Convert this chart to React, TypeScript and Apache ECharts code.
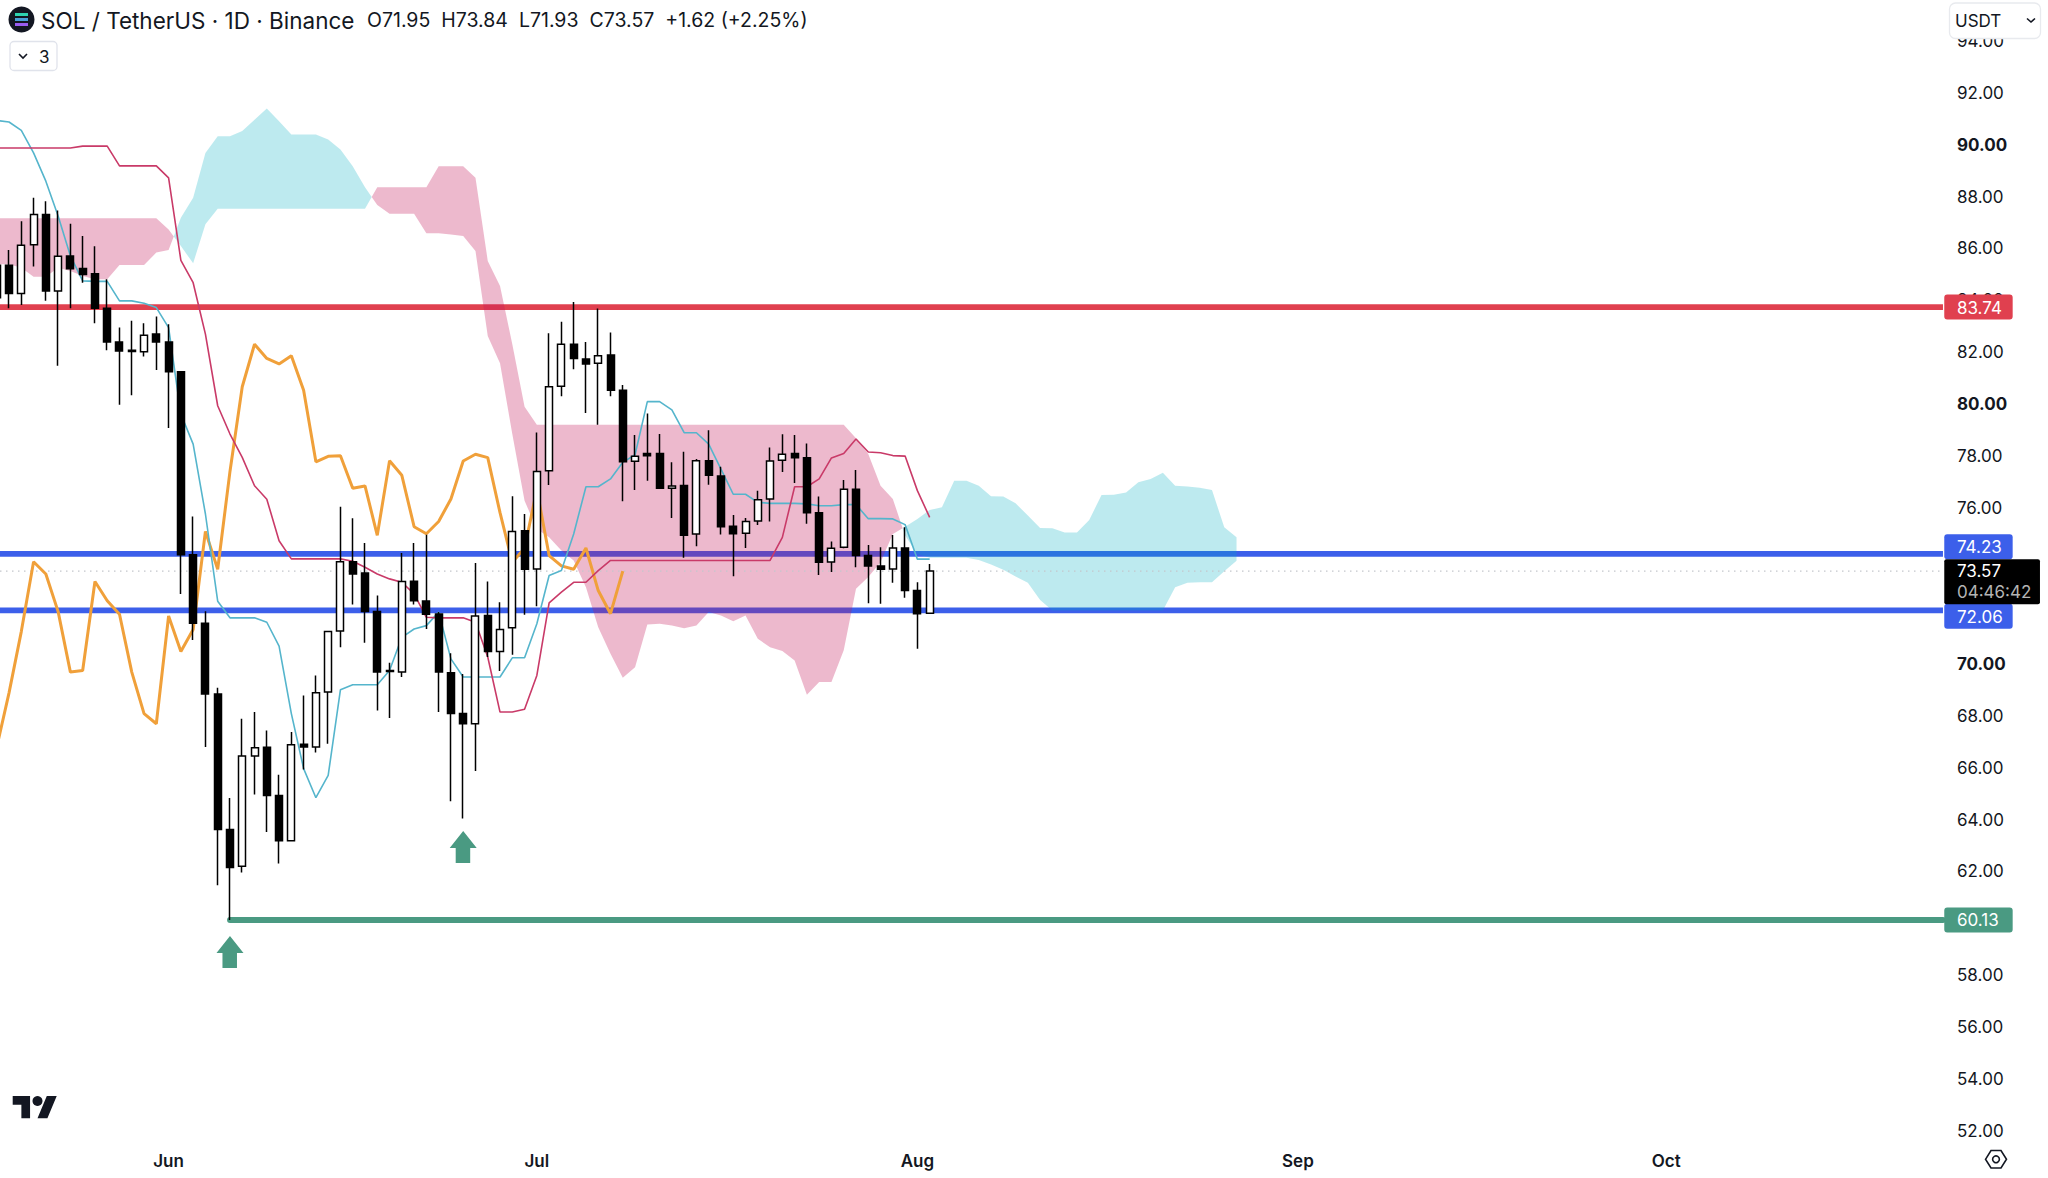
import React, { useEffect, useRef } from "react";
import * as echarts from "echarts";

// ---- data -----------------------------------------------------------------
// Day numbers count from 1 June (day 0).
const FIRST_DAY = -14;
const monthTicks = [0, 30, 61, 92, 122];
const monthLabels = ["Jun", "Jul", "Aug", "Sep", "Oct"];
// Price ticks that sit fully behind a price tag in the reference.
const coveredTicks = [60, 72, 74];

// open, close, low, high
const candles = [
  [85.35, 84.1, 83.8, 85.9], [85.35, 84.26, 83.7, 85.94], [84.26, 86.12, 83.82, 87.05], [86.14, 87.31, 85.3, 87.95],
  [87.31, 84.36, 83.98, 87.82], [84.36, 85.7, 81.48, 87.46], [85.71, 85.22, 83.7, 86.95], [85.23, 85.0, 84.68, 86.48],
  [85.02, 83.7, 83.12, 86.08], [83.7, 82.4, 82.08, 84.81], [82.4, 82.05, 79.98, 82.95], [82.08, 82.03, 80.34, 83.21],
  [82.02, 82.66, 81.84, 83.12], [82.7, 82.4, 81.32, 83.38], [82.4, 81.25, 79.08, 83.08], [81.25, 74.2, 72.69, 81.25],
  [74.2, 71.56, 70.92, 75.67], [71.56, 68.84, 66.79, 72.02], [68.84, 63.62, 61.47, 69.08], [63.62, 62.15, 60.13, 64.83],
  [62.2, 66.45, 61.96, 67.88], [66.45, 66.77, 64.96, 68.14], [66.78, 64.93, 63.52, 67.43], [64.93, 63.18, 62.31, 65.73],
  [63.18, 66.88, 63.18, 67.37], [66.9, 66.79, 65.93, 68.78], [66.79, 68.88, 66.58, 69.55], [68.91, 71.24, 66.92, 71.24],
  [71.26, 73.93, 70.64, 76.05], [73.93, 73.46, 72.28, 75.61], [73.5, 72.01, 70.81, 74.65], [72.01, 69.68, 68.2, 72.63],
  [69.7, 69.74, 67.91, 70.04], [69.68, 73.17, 69.49, 74.27], [73.18, 72.43, 72.28, 74.65], [72.42, 71.91, 71.34, 74.97],
  [71.92, 69.68, 68.14, 71.99], [69.65, 68.08, 64.7, 70.41], [68.08, 67.69, 64.04, 69.61], [67.69, 71.84, 65.87, 73.88],
  [71.86, 70.47, 70.26, 73.17], [70.47, 71.32, 69.72, 72.37], [71.39, 75.1, 70.35, 76.45], [75.12, 73.64, 71.89, 75.77],
  [73.65, 77.41, 72.22, 78.91], [77.44, 80.67, 76.89, 82.73], [80.69, 82.31, 80.31, 83.18], [82.31, 81.76, 81.35, 83.94],
  [81.74, 81.55, 79.66, 82.4], [81.58, 81.87, 79.21, 83.69], [81.89, 80.54, 80.31, 82.76], [80.54, 77.78, 76.26, 80.74],
  [77.8, 77.99, 76.69, 78.81], [78.1, 78.01, 77.05, 79.64], [78.1, 76.76, 76.76, 78.85], [76.76, 76.85, 75.62, 77.76],
  [76.87, 74.95, 74.08, 78.17], [75.0, 77.82, 74.53, 77.89], [77.82, 77.26, 76.9, 79.0], [77.23, 75.28, 74.98, 77.59],
  [75.3, 75.01, 73.37, 75.73], [75.03, 75.48, 74.46, 75.62], [75.5, 76.32, 75.35, 76.67], [76.35, 77.81, 75.48, 78.33],
  [77.84, 78.07, 77.39, 78.84], [78.1, 77.94, 76.96, 78.81], [77.94, 75.82, 75.39, 78.49], [75.82, 73.91, 73.42, 76.44],
  [73.92, 74.45, 73.54, 74.71], [74.49, 76.72, 74.45, 77.08], [76.72, 74.17, 73.72, 77.46], [74.17, 73.77, 72.33, 74.58],
  [73.77, 73.64, 72.31, 74.49], [73.65, 74.46, 73.12, 74.96], [74.46, 72.82, 72.54, 75.26], [72.82, 71.93, 70.58, 73.14],
  [71.95, 73.57, 71.93, 73.84],
];

const conversionLine = [
  90.93, 90.87, 90.55, 89.68, 88.59, 87.25, 85.71, 84.75, 84.73, 84.73, 83.98, 83.98, 83.89, 83.72, 82.95, 79.62,
  78.46, 75.77, 72.41, 71.77, 71.77, 71.77, 71.6, 70.68, 68.08, 65.96, 64.84, 65.7, 69.0, 69.19, 69.19, 69.19,
  69.74, 71.02, 71.34, 71.47, 71.99, 70.19, 69.49, 69.49, 69.49, 69.49, 70.23, 70.23, 71.54, 73.4, 73.59, 75.0,
  76.82, 76.82, 77.12, 77.76, 78.05, 80.1, 80.1, 79.78, 78.9, 78.9, 78.46, 77.5, 76.53, 76.53, 76.22, 76.18,
  76.18, 76.18, 76.16, 76.09, 76.09, 76.13, 76.13, 75.59, 75.59, 75.58, 75.36, 74.03, 74.03,
];

const baseLine = [
  89.87, 89.87, 89.87, 89.87, 89.87, 89.87, 89.87, 89.94, 89.94, 89.94, 89.18, 89.18, 89.18, 89.18, 88.72, 85.54,
  84.68, 82.7, 79.94, 78.85, 77.95, 76.86, 76.34, 74.74, 74.04, 74.04, 74.04, 74.04, 74.04, 73.95, 73.72, 73.46,
  73.27, 73.14, 72.69, 71.79, 71.77, 71.77, 71.77, 71.6, 70.26, 68.14, 68.14, 68.25, 69.55, 72.35, 72.76, 73.14,
  73.14, 73.59, 73.98, 73.98, 73.98, 73.98, 73.98, 73.98, 73.98, 73.98, 73.98, 73.98, 73.98, 73.98, 73.98, 73.98,
  74.87, 76.82, 76.82, 77.12, 77.93, 78.1, 78.66, 78.16, 78.13, 78.02, 78.0, 76.67, 75.64,
];

const laggingLine = [
  66.79, 68.88, 71.24, 73.93, 73.46, 72.01, 69.68, 69.74, 73.17, 72.43, 71.91, 69.68, 68.08, 67.69, 71.84, 70.47,
  71.32, 75.1, 73.64, 77.41, 80.67, 82.31, 81.76, 81.55, 81.87, 80.54, 77.78, 77.99, 78.01, 76.76, 76.85, 74.95,
  77.82, 77.26, 75.28, 75.01, 75.48, 76.35, 77.81, 78.07, 77.94, 75.82, 73.91, 74.45, 76.72, 74.17, 73.77, 73.64,
  74.46, 72.82, 71.93, 73.57,
];

const spanA = [
  85.39, 85.39, 85.26, 84.91, 84.91, 85.26, 85.13, 84.94, 84.81, 84.81, 85.36, 85.36, 85.36, 85.84, 85.94,
  87.18, 87.95, 89.68, 90.32, 90.32, 90.52, 90.96, 91.39, 90.9, 90.39, 90.39, 90.39, 90.2, 89.81, 89.17, 88.36,
  87.67, 87.34, 87.34, 87.34, 86.58, 86.58, 86.54, 86.48, 85.9, 82.63, 81.58, 78.85, 76.28, 75.19, 74.87, 74.36,
  73.98, 72.95, 71.41, 70.39, 69.46, 69.87, 71.51, 71.54, 71.47, 71.37, 71.47, 71.99, 71.86, 71.64, 71.86, 70.96,
  70.64, 70.49, 70.13, 68.81, 69.3, 69.3, 70.52, 72.89, 73.34, 73.91, 75.0,
  75.28, 75.58, 75.92, 76.03, 77.05, 77.05, 76.86, 76.45, 76.44, 76.18, 75.71, 75.23, 75.22, 75.06, 75.06, 75.54,
  76.5, 76.51, 76.6, 76.99, 77.12, 77.36, 76.86, 76.83, 76.78, 76.69, 75.26, 74.87,
];

const spanB = [
  87.16, 87.16, 87.16, 87.16, 87.16, 87.16, 87.16, 87.16, 87.16, 87.16, 87.16, 87.16, 87.16, 87.16, 86.73,
  86.09, 85.43, 86.93, 87.53, 87.53, 87.53, 87.53, 87.53, 87.53, 87.53, 87.53, 87.53, 87.53, 87.53, 87.53, 87.53,
  88.36, 88.36, 88.36, 88.36, 88.36, 89.17, 89.17, 89.17, 88.72, 85.52, 84.55, 82.31, 79.9, 79.21, 79.21, 79.21,
  79.21, 79.21, 79.21, 79.21, 79.21, 79.21, 79.21, 79.21, 79.21, 79.21, 79.21, 79.21, 79.21, 79.21, 79.21, 79.21,
  79.21, 79.21, 79.21, 79.21, 79.21, 79.21, 79.21, 78.69, 78.08, 76.86, 76.35,
  74.94, 74.23, 74.08, 74.08, 74.08, 74.08, 74.0, 73.82, 73.62, 73.36, 73.12, 72.46, 72.05, 72.05, 72.05, 72.05,
  72.05, 72.05, 72.05, 72.05, 72.05, 72.05, 72.95, 73.12, 73.14, 73.14, 73.56, 73.97,
];

const resistanceLevel = 83.74;
const upperLevel = 74.23;
const lowerLevel = 72.06;
const supportLevel = 60.13;
const supportStartDay = 5;
const lastPrice = 73.57;
const countdown = "04:46:42";
const arrowDays = [5, 24];
const arrowPrices = [58.9, 62.94];

// ---- styling ---------------------------------------------------------------
const FONT = "Inter, 'Noto Sans', sans-serif";
const INK = "#131722";
const RED = "#e0404f";
const BLUE = "#3c5fea";
const GREEN = "#4a9a82";
const X_MIN = -13.735;
const X_MAX = 144.96;
const LEVEL_END = 144.55;
const PINK = "rgba(194,24,91,0.3)";
const CYAN = "rgba(0,172,193,0.26)";

const tvPath = "M14 22H7V11H0V4h14v18zM28 22h-8l7.5-18h8L28 22z";
echarts.graphic.registerShape("tvlogo", echarts.graphic.extendPath(tvPath, {}) as any);

function buildCloudRegions() {
  const regions: { up: boolean; upper: number[][]; lower: number[][] }[] = [];
  let cur: { up: boolean; upper: number[][]; lower: number[][] } | null = null;
  for (let i = 0; i < spanA.length; i++) {
    const day = FIRST_DAY + i;
    const a = spanA[i];
    const b = spanB[i];
    const up = a >= b;
    if (cur && cur.up !== up) {
      const pa = spanA[i - 1];
      const pb = spanB[i - 1];
      const t = (pb - pa) / (a - pa - (b - pb));
      const cross = [day - 1 + t, pa + (a - pa) * t];
      cur.upper.push(cross);
      regions.push(cur);
      cur = { up, upper: [cross], lower: [] };
    }
    if (!cur) cur = { up, upper: [], lower: [] };
    cur.upper.push([day, Math.max(a, b)]);
    cur.lower.push([day, Math.min(a, b)]);
  }
  if (cur) regions.push(cur);
  return regions;
}

function lineSeries(name: string, values: number[], color: string, width: number, z: number) {
  return {
    name,
    type: "line",
    z,
    silent: true,
    showSymbol: false,
    symbol: "none",
    data: values.map((v, i) => [FIRST_DAY + i, v]),
    lineStyle: { color, width },
  };
}

function levelSeries(value: number, fromDay: number, color: string, extra: any = {}) {
  return {
    type: "line",
    z: 1,
    silent: true,
    showSymbol: false,
    symbol: "none",
    data: [[fromDay, value], [LEVEL_END, value]],
    lineStyle: { color, width: 5.8, cap: "butt", ...extra },
  };
}

function buildOption() {
  const regions = buildCloudRegions();
  const tags = [
    { value: resistanceLevel, fill: RED, offset: 0 },
    { value: upperLevel, fill: BLUE, offset: -7.2 },
    { value: lowerLevel, fill: BLUE, offset: 5.9 },
    { value: supportLevel, fill: GREEN, offset: 0 },
  ];
  return {
    animation: false,
    backgroundColor: "#ffffff",
    grid: { left: 0, top: 40.75, width: 1948, height: 1090.3, containLabel: false },
    xAxis: {
      type: "value",
      min: X_MIN,
      max: X_MAX,
      axisLine: { show: false },
      axisTick: { show: false },
      splitLine: { show: false },
      axisLabel: {
        customValues: monthTicks,
        margin: 21.4,
        formatter: (v: number) => monthLabels[monthTicks.indexOf(v)] ?? "",
        fontFamily: FONT,
        fontSize: 17,
        fontWeight: 600,
        color: INK,
      },
    },
    yAxis: {
      type: "value",
      position: "right",
      min: 52,
      max: 94,
      interval: 2,
      axisLine: { show: false },
      axisTick: { show: false },
      splitLine: { show: false },
      axisLabel: {
        margin: 9,
        formatter: (v: number) => {
          if (coveredTicks.includes(v)) return "";
          return v % 10 === 0 ? `{b|${v.toFixed(2)}}` : `{n|${v.toFixed(2)}}`;
        },
        rich: {
          n: { fontFamily: FONT, fontSize: 17, color: INK },
          b: { fontFamily: FONT, fontSize: 17, fontWeight: 700, color: INK },
        },
      },
    },
    series: [
      levelSeries(resistanceLevel, X_MIN, RED),
      levelSeries(upperLevel, X_MIN, BLUE),
      levelSeries(lowerLevel, X_MIN, BLUE),
      levelSeries(supportLevel, supportStartDay, GREEN, { cap: "round" }),
      {
        type: "custom",
        name: "Cloud",
        z: 2,
        silent: true,
        data: regions.map((r) => r.upper[0]),
        renderItem: (params: any, api: any) => {
          const r = regions[params.dataIndex];
          const pts = [...r.upper, ...r.lower.slice().reverse()].map((p) => api.coord(p));
          return { type: "polygon", shape: { points: pts }, style: { fill: r.up ? CYAN : PINK } };
        },
      },
      {
        type: "line",
        z: 3,
        silent: true,
        showSymbol: false,
        symbol: "none",
        data: [[X_MIN, lastPrice], [LEVEL_END, lastPrice]],
        lineStyle: { color: "#c4c6cc", width: 1.2, type: [1.5, 4.5] },
      },
      lineSeries("Lagging", laggingLine, "#f0a03a", 3, 3),
      lineSeries("Conversion", conversionLine, "#55b5cc", 1.6, 3),
      lineSeries("Base", baseLine, "#c93a68", 1.6, 3),
      {
        type: "candlestick",
        name: "SOL / TetherUS",
        z: 4,
        silent: true,
        barWidth: 7.5,
        data: candles.map((c, i) => [FIRST_DAY + i, c[0], c[1], c[2], c[3]]),
        itemStyle: { color: "#ffffff", color0: "#000000", borderColor: "#000000", borderColor0: "#000000", borderWidth: 1.5 },
      },
      {
        type: "scatter",
        z: 5,
        silent: true,
        symbol: "path://M13.5 0 L27 17 L20.5 17 L20.5 32 L6 32 L6 17 L0 17 Z",
        symbolSize: [27, 32],
        data: arrowDays.map((d, i) => [d, arrowPrices[i]]),
        itemStyle: { color: GREEN, opacity: 1 },
      },
      {
        type: "custom",
        name: "Price tags",
        z: 10,
        silent: true,
        data: tags.map((t) => [LEVEL_END, t.value]),
        renderItem: (params: any, api: any) => {
          const t = tags[params.dataIndex];
          const p = api.coord([LEVEL_END, t.value]);
          const cy = p[1] + t.offset;
          return {
            type: "group",
            children: [
              { type: "rect", shape: { x: p[0] + 1.3, y: cy - 12.5, width: 68.4, height: 25, r: 3 }, style: { fill: t.fill } },
              {
                type: "text",
                style: { text: t.value.toFixed(2), x: p[0] + 14, y: cy + 0.5, fill: "#ffffff", font: `17px ${FONT}`, verticalAlign: "middle", align: "left" },
              },
            ],
          };
        },
      },
      {
        type: "custom",
        name: "Last price tag",
        z: 11,
        silent: true,
        data: [[LEVEL_END, lastPrice]],
        renderItem: (_params: any, api: any) => {
          const p = api.coord([LEVEL_END, lastPrice]);
          return {
            type: "group",
            children: [
              { type: "rect", shape: { x: p[0] + 1.3, y: p[1] - 11.8, width: 95.7, height: 45, r: 2 }, style: { fill: "#000000" } },
              {
                type: "text",
                style: { text: lastPrice.toFixed(2), x: p[0] + 14, y: p[1] + 0.2, fill: "#ffffff", font: `17px ${FONT}`, verticalAlign: "middle", align: "left" },
              },
              {
                type: "text",
                style: { text: countdown, x: p[0] + 14, y: p[1] + 20.6, fill: "#b4b4b4", font: `17px ${FONT}`, verticalAlign: "middle", align: "left" },
              },
            ],
          };
        },
      },
    ],
    graphic: {
      elements: [
        { type: "circle", z: 100, shape: { cx: 21.5, cy: 19.5, r: 13 }, style: { fill: INK } },
        { type: "rect", z: 101, shape: { x: 15, y: 13, width: 13, height: 3 }, style: { fill: "#2ed3b0" } },
        { type: "rect", z: 101, shape: { x: 15, y: 18, width: 13, height: 3 }, style: { fill: "#4aa0d8" } },
        { type: "rect", z: 101, shape: { x: 15, y: 23, width: 13, height: 3 }, style: { fill: "#9a5cf0" } },
        {
          type: "text",
          z: 100,
          style: { text: "SOL / TetherUS · 1D · Binance", x: 41, y: 20, font: `22.5px ${FONT}`, fill: INK, verticalAlign: "middle" },
        },
        {
          type: "text",
          z: 100,
          style: { text: "O71.95  H73.84  L71.93  C73.57  +1.62 (+2.25%)", x: 367, y: 20, font: `19.5px ${FONT}`, fill: INK, verticalAlign: "middle" },
        },
        { type: "rect", z: 100, shape: { x: 10, y: 41.5, width: 47, height: 29, r: 4 }, style: { fill: "#ffffff", stroke: "#e0e3eb", lineWidth: 1.3 } },
        { type: "polyline", z: 101, shape: { points: [[19, 54], [23, 58], [27, 54]] }, style: { stroke: INK, lineWidth: 1.6, fill: "none" } },
        { type: "text", z: 101, style: { text: "3", x: 39, y: 56.5, font: `17px ${FONT}`, fill: INK, verticalAlign: "middle" } },
        { type: "rect", z: 100, shape: { x: 1949.5, y: 3, width: 91, height: 35.5, r: 6 }, style: { fill: "#ffffff", stroke: "#e8eaee", lineWidth: 1.3 } },
        { type: "text", z: 101, style: { text: "USDT", x: 1955, y: 21, font: `17px ${FONT}`, fill: INK, verticalAlign: "middle" } },
        { type: "polyline", z: 101, shape: { points: [[2027, 18.5], [2031, 22], [2035, 18.5]] }, style: { stroke: INK, lineWidth: 1.6, fill: "none" } },
        { type: "tvlogo", z: 100, x: 12.7, y: 1091, scaleX: 1.24, scaleY: 1.24, style: { fill: INK } },
        { type: "circle", z: 100, shape: { cx: 37.5, cy: 1101, r: 5 }, style: { fill: INK } },
        {
          type: "polygon",
          z: 100,
          shape: { points: [[1985.5, 1159.3], [1991, 1150.5], [2001, 1150.5], [2006.5, 1159.3], [2001, 1168], [1991, 1168]] },
          style: { fill: "none", stroke: INK, lineWidth: 1.6 },
        },
        { type: "circle", z: 100, shape: { cx: 1996, cy: 1159.3, r: 3.4 }, style: { fill: "none", stroke: INK, lineWidth: 1.6 } },
      ],
    },
  };
}

export default function App() {
  const ref = useRef<HTMLDivElement | null>(null);
  useEffect(() => {
    document.body.style.margin = "0";
    const chart = echarts.init(ref.current as HTMLDivElement, undefined, { renderer: "svg" });
    chart.setOption(buildOption() as any);
    return () => chart.dispose();
  }, []);
  return <div ref={ref} style={{ position: "fixed", left: 0, top: 0, width: 2048, height: 1178, background: "#fff" }} />;
}
